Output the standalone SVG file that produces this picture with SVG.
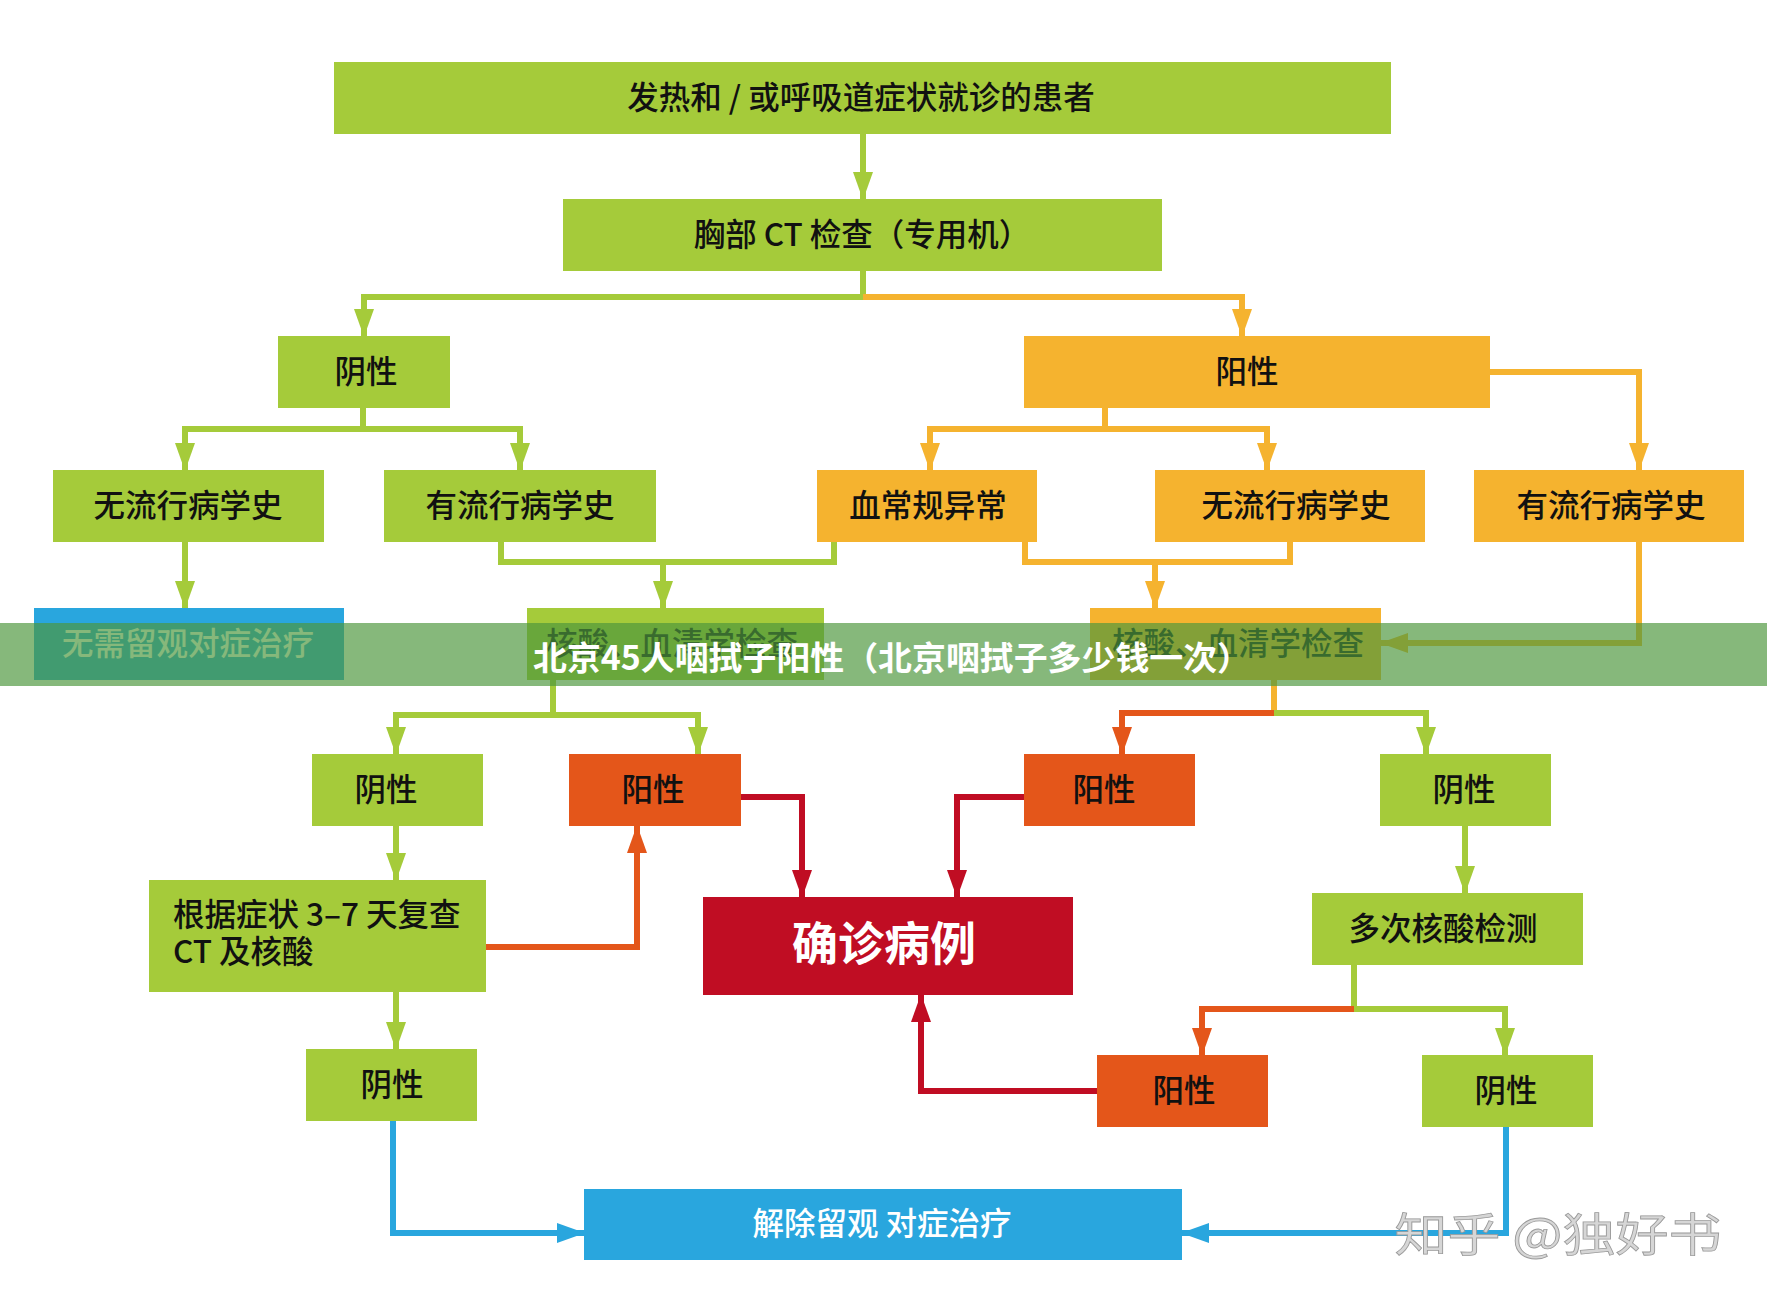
<svg xmlns="http://www.w3.org/2000/svg" width="1767" height="1311" viewBox="0 0 1767 1311">
<style>
text{font-family:"Noto Sans CJK SC","Liberation Sans",sans-serif;dominant-baseline:central;text-anchor:middle}
.t{font-size:31.5px;fill:#111;font-weight:500}
.w{fill:#fff}
.g{fill:#a5cb3a}.o{fill:#f5b32f}.d{fill:#e4561a}.r{fill:#c00d23}.b{fill:#29a6de}
.c{fill:none;stroke-width:6;stroke-linejoin:miter;stroke-linecap:butt}
.cg{stroke:#a5cb3a}.co{stroke:#f5b32f}.cd{stroke:#e4561a}.cr{stroke:#c00d23}.cb{stroke:#29a6de}
</style>
<defs>
<marker id="ag" viewBox="0 0 28 20" markerWidth="28" markerHeight="20" refX="27" refY="10" orient="auto" markerUnits="userSpaceOnUse"><path d="M0,0L28,10L0,20z" fill="#a5cb3a"/></marker>
<marker id="ao" viewBox="0 0 28 20" markerWidth="28" markerHeight="20" refX="27" refY="10" orient="auto" markerUnits="userSpaceOnUse"><path d="M0,0L28,10L0,20z" fill="#f5b32f"/></marker>
<marker id="ad" viewBox="0 0 28 20" markerWidth="28" markerHeight="20" refX="27" refY="10" orient="auto" markerUnits="userSpaceOnUse"><path d="M0,0L28,10L0,20z" fill="#e4561a"/></marker>
<marker id="ar" viewBox="0 0 28 20" markerWidth="28" markerHeight="20" refX="27" refY="10" orient="auto" markerUnits="userSpaceOnUse"><path d="M0,0L28,10L0,20z" fill="#c00d23"/></marker>
<marker id="ab" viewBox="0 0 28 20" markerWidth="28" markerHeight="20" refX="27" refY="10" orient="auto" markerUnits="userSpaceOnUse"><path d="M0,0L28,10L0,20z" fill="#29a6de"/></marker>
</defs>
<rect width="1767" height="1311" fill="#fff"/>

<g id="connectors">
<path class="c cg" d="M863,134V199" marker-end="url(#ag)"/>
<path class="c cg" d="M863,271V297H364V336" marker-end="url(#ag)"/>
<path class="c co" d="M863,297H1242V336" marker-end="url(#ao)"/>
<path class="c cg" d="M363,408V429H185V470" marker-end="url(#ag)"/>
<path class="c cg" d="M363,429H520V470" marker-end="url(#ag)"/>
<path class="c co" d="M1105,408V429H930V470" marker-end="url(#ao)"/>
<path class="c co" d="M1105,429H1267V470" marker-end="url(#ao)"/>
<path class="c co" d="M1490,372H1639V470" marker-end="url(#ao)"/>
<path class="c cg" d="M185,542V608" marker-end="url(#ag)"/>
<path class="c cg" d="M501,542V562H834V542"/>
<path class="c cg" d="M663,562V608" marker-end="url(#ag)"/>
<path class="c co" d="M1025,542V562H1290V542"/>
<path class="c co" d="M1155,562V608" marker-end="url(#ao)"/>
<path class="c co" d="M1639,542V643H1381" marker-end="url(#ao)"/>
<path class="c cg" d="M553,680V715H396V754" marker-end="url(#ag)"/>
<path class="c cg" d="M553,715H698V754" marker-end="url(#ag)"/>
<path class="c co" d="M1274,680V713"/>
<path class="c cd" d="M1274,713H1122V754" marker-end="url(#ad)"/>
<path class="c cg" d="M1274,713H1426V754" marker-end="url(#ag)"/>
<path class="c cg" d="M396,826V880" marker-end="url(#ag)"/>
<path class="c cd" d="M486,947H637V826" marker-end="url(#ad)"/>
<path class="c cr" d="M741,797H802V897" marker-end="url(#ar)"/>
<path class="c cr" d="M1024,797H957V897" marker-end="url(#ar)"/>
<path class="c cg" d="M1465,826V893" marker-end="url(#ag)"/>
<path class="c cg" d="M1354,964V1009"/>
<path class="c cd" d="M1354,1009H1202V1055" marker-end="url(#ad)"/>
<path class="c cg" d="M1354,1009H1505V1055" marker-end="url(#ag)"/>
<path class="c cr" d="M1097,1091H921V995" marker-end="url(#ar)"/>
<path class="c cg" d="M396,992V1049" marker-end="url(#ag)"/>
<path class="c cb" d="M393,1121V1233H584" marker-end="url(#ab)"/>
<path class="c cb" d="M1506,1127V1233H1182" marker-end="url(#ab)"/>
</g>

<g id="n-start"><rect class="g" x="334" y="62" width="1057" height="72"/><text class="t" x="861" y="95">发热和 / 或呼吸道症状就诊的患者</text></g>
<g id="n-ct"><rect class="g" x="563" y="199" width="599" height="72"/><text class="t" x="862" y="232">胸部 CT 检查（专用机）</text></g>
<g id="n-neg1"><rect class="g" x="278" y="336" width="172" height="72"/><text class="t" x="366" y="369">阴性</text></g>
<g id="n-pos1"><rect class="o" x="1024" y="336" width="466" height="72"/><text class="t" x="1247" y="369">阳性</text></g>
<g id="n-noepi1"><rect class="g" x="53" y="470" width="271" height="72"/><text class="t" x="188" y="503">无流行病学史</text></g>
<g id="n-epi1"><rect class="g" x="384" y="470" width="272" height="72"/><text class="t" x="520" y="503">有流行病学史</text></g>
<g id="n-blood"><rect class="o" x="817" y="470" width="220" height="72"/><text class="t" x="928" y="503">血常规异常</text></g>
<g id="n-noepi2"><rect class="o" x="1155" y="470" width="270" height="72"/><text class="t" x="1296" y="503">无流行病学史</text></g>
<g id="n-epi2"><rect class="o" x="1474" y="470" width="270" height="72"/><text class="t" x="1611" y="503">有流行病学史</text></g>
<g id="n-noobs"><rect class="b" x="34" y="608" width="310" height="72"/><text class="t w" x="188" y="641">无需留观对症治疗</text></g>
<g id="n-test1"><rect class="g" x="527" y="608" width="297" height="72"/><text class="t" x="672" y="641">核酸、血清学检查</text></g>
<g id="n-test2"><rect class="o" x="1090" y="608" width="291" height="72"/><text class="t" x="1238" y="641">核酸、血清学检查</text></g>
<g id="n-neg2"><rect class="g" x="312" y="754" width="171" height="72"/><text class="t" x="386" y="787">阴性</text></g>
<g id="n-pos2"><rect class="d" x="569" y="754" width="172" height="72"/><text class="t" x="653" y="787">阳性</text></g>
<g id="n-pos3"><rect class="d" x="1024" y="754" width="171" height="72"/><text class="t" x="1104" y="787">阳性</text></g>
<g id="n-neg4"><rect class="g" x="1380" y="754" width="171" height="72"/><text class="t" x="1464" y="787">阴性</text></g>
<g id="n-recheck"><rect class="g" x="149" y="880" width="337" height="112"/><text class="t" x="173" y="912" style="text-anchor:start">根据症状 3–7 天复查</text><text class="t" x="173" y="949" style="text-anchor:start">CT 及核酸</text></g>
<g id="n-confirmed"><rect class="r" x="703" y="897" width="370" height="98"/><text class="w" x="884" y="940" style="font-size:46px;font-weight:700">确诊病例</text></g>
<g id="n-multi"><rect class="g" x="1312" y="893" width="271" height="72"/><text class="t" x="1443" y="926">多次核酸检测</text></g>
<g id="n-neg3"><rect class="g" x="306" y="1049" width="171" height="72"/><text class="t" x="392" y="1082">阴性</text></g>
<g id="n-pos4"><rect class="d" x="1097" y="1055" width="171" height="72"/><text class="t" x="1184" y="1088">阳性</text></g>
<g id="n-neg5"><rect class="g" x="1422" y="1055" width="171" height="72"/><text class="t" x="1506" y="1088">阴性</text></g>
<g id="n-release"><rect class="b" x="584" y="1189" width="598" height="71"/><text class="t w" x="882" y="1221">解除留观 对症治疗</text></g>

<g id="banner">
<rect x="0" y="623" width="1767" height="63" fill="#4c963c" opacity="0.68"/>
<text x="533" y="656" style="text-anchor:start;font-size:33px;font-weight:700;fill:#fff" textLength="718" lengthAdjust="spacingAndGlyphs">北京45人咽拭子阳性（北京咽拭子多少钱一次）</text>
</g>
<g id="watermark">
<text x="1558" y="1231" style="font-size:46px;fill:#d6d6d6;stroke:#9a9a9a;stroke-width:0.8" textLength="327" lengthAdjust="spacingAndGlyphs">知乎 @独好书</text>
</g>
</svg>
